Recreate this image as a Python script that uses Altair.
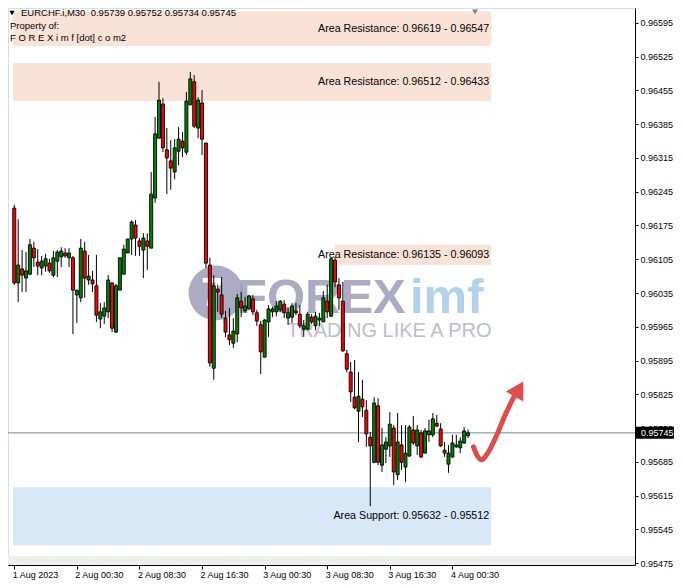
import altair as alt
import pandas as pd

# ---------------- data (EURCHF.i, M30) ----------------
opens = [0.96211, 0.96056, 0.96085, 0.96066, 0.96074, 0.96128, 0.96099, 0.96087, 0.96091, 0.96097,
         0.96072, 0.96101, 0.96110, 0.96118, 0.96108, 0.96108, 0.96031, 0.96025, 0.96122, 0.96062,
         0.96062, 0.96050, 0.95981, 0.95987, 0.95996, 0.96056, 0.95954, 0.96041, 0.96074, 0.96118,
         0.96147, 0.96176, 0.96143, 0.96124, 0.96143, 0.96128, 0.96232, 0.96356, 0.96427, 0.96332,
         0.96309, 0.96286, 0.96329, 0.96350, 0.96327, 0.96425, 0.96473, 0.96377, 0.96429, 0.96346,
         0.96093, 0.95879, 0.96043, 0.96031, 0.95983, 0.95948, 0.95931, 0.95950, 0.96018, 0.95998,
         0.96002, 0.96023, 0.95994, 0.95969, 0.95902, 0.95975, 0.95996, 0.95996, 0.96000, 0.96012,
         0.95983, 0.95985, 0.95998, 0.95991, 0.95960, 0.95960, 0.95985, 0.95967, 0.95979, 0.95975,
         0.96018, 0.95987, 0.96103, 0.96052, 0.96018, 0.95909, 0.95871, 0.95819, 0.95790, 0.95815,
         0.95792, 0.95736, 0.95684, 0.95801, 0.95678, 0.95711, 0.95718, 0.95755, 0.95658, 0.95720,
         0.95674, 0.95697, 0.95751, 0.95718, 0.95745, 0.95703, 0.95741, 0.95741, 0.95765, 0.95753,
         0.95709, 0.95680, 0.95695, 0.95716, 0.95714, 0.95724, 0.95739]
highs = [0.96218, 0.96188, 0.96124, 0.96120, 0.96147, 0.96141, 0.96126, 0.96112, 0.96116, 0.96106,
         0.96122, 0.96124, 0.96130, 0.96128, 0.96128, 0.96112, 0.96041, 0.96147, 0.96141, 0.96114,
         0.96081, 0.96114, 0.96014, 0.96016, 0.96072, 0.96056, 0.96054, 0.96108, 0.96135, 0.96147,
         0.96186, 0.96186, 0.96149, 0.96159, 0.96159, 0.96286, 0.96400, 0.96473, 0.96439, 0.96377,
         0.96352, 0.96354, 0.96379, 0.96369, 0.96452, 0.96493, 0.96487, 0.96441, 0.96456, 0.96346,
         0.96108, 0.96072, 0.96052, 0.96068, 0.95998, 0.96004, 0.95983, 0.96033, 0.96037, 0.96027,
         0.96031, 0.96031, 0.96000, 0.95977, 0.95981, 0.96010, 0.96006, 0.96018, 0.96020, 0.96020,
         0.96004, 0.96014, 0.96014, 0.96010, 0.95979, 0.95996, 0.95991, 0.95996, 0.95994, 0.96039,
         0.96052, 0.96108, 0.96110, 0.96066, 0.96058, 0.95917, 0.95892, 0.95896, 0.95871, 0.95855,
         0.95813, 0.95747, 0.95819, 0.95817, 0.95755, 0.95736, 0.95788, 0.95761, 0.95786, 0.95761,
         0.95761, 0.95761, 0.95780, 0.95761, 0.95751, 0.95755, 0.95772, 0.95786, 0.95782, 0.95765,
         0.95726, 0.95720, 0.95741, 0.95741, 0.95736, 0.95757, 0.95752]
lows = [0.96052, 0.96016, 0.96037, 0.96037, 0.96072, 0.96089, 0.96072, 0.96072, 0.96079, 0.96077,
        0.96068, 0.96068, 0.96089, 0.96108, 0.96089, 0.95950, 0.95973, 0.96016, 0.96025, 0.96052,
        0.96037, 0.95975, 0.95962, 0.95971, 0.95983, 0.95954, 0.95952, 0.96041, 0.96074, 0.96118,
        0.96114, 0.96112, 0.96112, 0.96066, 0.96083, 0.96128, 0.96222, 0.96356, 0.96327, 0.96240,
        0.96249, 0.96271, 0.96300, 0.96317, 0.96321, 0.96425, 0.96377, 0.96356, 0.96321, 0.96087,
        0.95882, 0.95855, 0.95996, 0.95983, 0.95944, 0.95927, 0.95921, 0.95933, 0.95985, 0.95994,
        0.96000, 0.95989, 0.95967, 0.95867, 0.95902, 0.95944, 0.95985, 0.95987, 0.95996, 0.95983,
        0.95969, 0.95973, 0.95989, 0.95962, 0.95944, 0.95958, 0.95971, 0.95958, 0.95967, 0.95975,
        0.95983, 0.95985, 0.96047, 0.96000, 0.95913, 0.95871, 0.95809, 0.95794, 0.95726, 0.95778,
        0.95716, 0.95593, 0.95682, 0.95678, 0.95664, 0.95682, 0.95695, 0.95637, 0.95647, 0.95668,
        0.95643, 0.95695, 0.95720, 0.95699, 0.95693, 0.95703, 0.95726, 0.95736, 0.95757, 0.95716,
        0.95695, 0.95662, 0.95693, 0.95714, 0.95703, 0.95722, 0.95734]
closes = [0.96056, 0.96093, 0.96072, 0.96081, 0.96135, 0.96108, 0.96091, 0.96101, 0.96106, 0.96081,
          0.96108, 0.96120, 0.96122, 0.96112, 0.96118, 0.96041, 0.96041, 0.96128, 0.96066, 0.96070,
          0.96054, 0.95989, 0.95996, 0.96004, 0.96062, 0.95962, 0.96050, 0.96108, 0.96126, 0.96147,
          0.96182, 0.96149, 0.96132, 0.96149, 0.96132, 0.96240, 0.96365, 0.96435, 0.96336, 0.96315,
          0.96294, 0.96336, 0.96354, 0.96336, 0.96433, 0.96479, 0.96381, 0.96435, 0.96354, 0.96097,
          0.95890, 0.96050, 0.96037, 0.95991, 0.95954, 0.95938, 0.95956, 0.96025, 0.96004, 0.96008,
          0.96029, 0.95996, 0.95977, 0.95913, 0.95979, 0.96002, 0.96002, 0.96008, 0.96018, 0.95994,
          0.95994, 0.96008, 0.95994, 0.95967, 0.95967, 0.95991, 0.95975, 0.95987, 0.95983, 0.96025,
          0.95996, 0.96106, 0.96058, 0.96025, 0.95915, 0.95877, 0.95830, 0.95797, 0.95821, 0.95799,
          0.95743, 0.95718, 0.95807, 0.95684, 0.95720, 0.95726, 0.95763, 0.95664, 0.95726, 0.95684,
          0.95703, 0.95757, 0.95724, 0.95751, 0.95695, 0.95749, 0.95749, 0.95774, 0.95759, 0.95718,
          0.95703, 0.95703, 0.95724, 0.95720, 0.95728, 0.95749, 0.95745]

tick_idx = [0, 16, 32, 48, 64, 80, 96, 112]
tick_labels = ["1 Aug 2023", "2 Aug 00:30", "2 Aug 08:30", "2 Aug 16:30",
               "3 Aug 00:30", "3 Aug 08:30", "3 Aug 16:30", "4 Aug 00:30"]
price_ticks = [0.96595, 0.96525, 0.96455, 0.96385, 0.96315, 0.96245, 0.96175, 0.96105, 0.96035,
               0.95965, 0.95895, 0.95825, 0.95755, 0.95685, 0.95615, 0.95545, 0.95475]

zone_labels = ["Area Resistance: 0.96619 - 0.96547", "Area Resistance: 0.96512 - 0.96433",
               "Area Resistance: 0.96135 - 0.96093", "Area Support: 0.95632 - 0.95512"]
zone_top = [0.96619, 0.96512, 0.96135, 0.95632]
zone_bottom = [0.96547, 0.96433, 0.96093, 0.95512]
zone_start = [-0.3, -0.3, 81.9, -0.3]
zone_end = [121.9, 121.9, 121.9, 121.9]
zone_kind = ["res", "res", "res", "sup"]

current_price = 0.95745
header = "EURCHF.i,M30\u00a0\u00a00.95739 0.95752 0.95734 0.95745"

arrow_idx = [117.4, 118.4, 119.5, 120.7, 123.2, 125.7, 127.7]
arrow_price = [0.95716, 0.95697, 0.95689, 0.95699, 0.95738, 0.95786, 0.95819]
arrow_head = (129.0, 0.95836)

# ---------------- chart ----------------
FONT = "Liberation Sans"
W, H = 627, 557
xs = alt.Scale(domain=[-0.325, 157.4], nice=False, zero=False)
ys = alt.Scale(domain=[0.95471, 0.96626], nice=False, zero=False)

label_expr = ""
for v, t in zip(tick_idx, tick_labels):
    label_expr += f"datum.value == {v} ? '{t}' : "
label_expr += "''"

XAX = alt.Axis(values=tick_idx, labelExpr=label_expr, grid=False, title=None, orient="bottom",
               domainColor="black", tickColor="black", tickSize=4, labelAlign="left",
               labelPadding=1, labelFontSize=9, labelFont=FONT, labelColor="black",
               labelOverlap=False, labelFlush=False, labelOffset=-2)
YAX = alt.Axis(values=price_ticks, format=".5f", grid=False, title=None, orient="right",
               domainColor="black", tickColor="black", tickSize=3, labelPadding=2,
               labelFontSize=9, labelFont=FONT, labelColor="black", labelOverlap=False,
               labelFlush=False)

df = pd.DataFrame({"i": list(range(len(opens))), "open": opens, "high": highs,
                   "low": lows, "close": closes})

zones = pd.DataFrame({"label": zone_labels, "top": zone_top, "bottom": zone_bottom,
                      "start": zone_start, "end": zone_end, "kind": zone_kind})
zones["mid"] = (zones["top"] + zones["bottom"]) / 2
zones["tx"] = [121.4] * len(zones)

X = lambda f: alt.X(f, type="quantitative", scale=xs, axis=XAX)
Y = lambda f: alt.Y(f, type="quantitative", scale=ys, axis=YAX)
one = pd.DataFrame({"a": [0]})

zone_rects = alt.Chart(zones).mark_rect(clip=True).encode(
    x=X("start"), x2="end", y=Y("top"), y2="bottom",
    color=alt.condition("datum.kind == 'res'", alt.value("#FBE2D7"), alt.value("#D7E8F7")))

gray_band = alt.Chart(one).mark_rect(color="#EEEEEE").encode(
    x=alt.value(0), x2=alt.value(W), y=alt.value(H - 9), y2=alt.value(H))

# watermark
wm_circle = alt.Chart(one).mark_point(
    shape="circle", filled=True, size=3000, color="#9C9EB9", opacity=0.85).encode(
    x=alt.value(208), y=alt.value(285))
wm_inner = alt.Chart(one).mark_text(
    text="7", font=FONT, fontSize=40, fontWeight="bold", color="white", align="center",
    baseline="middle").encode(x=alt.value(204), y=alt.value(286))
wm_forex = alt.Chart(one).mark_text(
    text="FOREX", font=FONT, fontSize=49, fontWeight="bold", color="#9C9EB9", opacity=0.85,
    align="left", baseline="alphabetic").encode(x=alt.value(229), y=alt.value(305))
wm_imf = alt.Chart(one).mark_text(
    text="imf", font=FONT, fontSize=49, fontWeight="bold", color="#A9CDEA", opacity=0.9,
    align="left", baseline="alphabetic").encode(x=alt.value(402), y=alt.value(305))
wm_tag = alt.Chart(one).mark_text(
    text="TRADING LIKE A PRO", font=FONT, fontSize=20, color="#BDBDCB",
    align="left", baseline="alphabetic").encode(x=alt.value(279), y=alt.value(329))

price_line = alt.Chart(pd.DataFrame({"p": [current_price]})).mark_rule(
    color="#778899", strokeWidth=1).encode(y=Y("p"))

wicks = alt.Chart(df).mark_rule(color="black", strokeWidth=1, clip=True).encode(
    x=X("i"), y=Y("low"), y2="high")
bodies = alt.Chart(df).mark_bar(width=3, stroke="black", strokeWidth=0.9, clip=True).encode(
    x=X("i"), y=Y("open"), y2="close",
    color=alt.condition("datum.close >= datum.open", alt.value("#008000"), alt.value("#FF0000")))

zone_text = alt.Chart(zones).mark_text(align="right", baseline="middle", font=FONT,
                                       fontSize=10.7, color="black", clip=True).encode(
    x=X("tx"), y=Y("mid"), text="label:N")

hdr_tri = alt.Chart(one).mark_point(
    shape="triangle-down", filled=True, size=28, color="black", opacity=1, clip=True).encode(
    x=alt.value(4), y=alt.value(5))
hdr_df = pd.DataFrame({"t": [header, "Property of:", "F O R E X i m f [dot] c o m2"],
                       "xx": [13, 2, 2], "yy": [5, 18, 30]})
hdr_txt = alt.Chart(hdr_df).mark_text(
    align="left", baseline="middle", font=FONT, fontSize=9.5, color="black", clip=True).encode(
    x=alt.X("xx:Q", scale=None), y=alt.Y("yy:Q", scale=None), text="t:N")

shift_mark = alt.Chart(one).mark_point(
    shape="triangle-down", filled=True, size=36, color="#7A8590", opacity=1, clip=True).encode(
    x=alt.value(467), y=alt.value(4))

arrow_df = pd.DataFrame({"i": arrow_idx, "p": arrow_price, "o": list(range(len(arrow_idx)))})
arrow_line = alt.Chart(arrow_df).mark_line(
    color="#E04B4B", strokeWidth=5, strokeCap="round", strokeJoin="round",
    interpolate="monotone").encode(x=X("i"), y=Y("p"), order="o:Q")
arrow_tip = alt.Chart(pd.DataFrame({"i": [arrow_head[0]], "p": [arrow_head[1]]})).mark_point(
    shape="triangle-up", filled=True, size=400, angle=30, color="#E04B4B", opacity=1).encode(
    x=X("i"), y=Y("p"))

tag_box = alt.Chart(pd.DataFrame({"p": [current_price]})).mark_tick(
    orient="horizontal", size=38, thickness=12, color="black", opacity=1).encode(
    x=alt.value(W + 20), y=Y("p"))
tag_text = alt.Chart(pd.DataFrame({"p": [current_price]})).mark_text(
    align="left", baseline="middle", font=FONT, fontSize=9, color="white").encode(
    x=alt.value(W + 6), y=Y("p"), text=alt.Text("p:Q", format=".5f"))

chart = alt.layer(
    zone_rects, gray_band, wm_circle, wm_inner, wm_forex, wm_imf, wm_tag, price_line,
    wicks, bodies, zone_text, hdr_tri, hdr_txt, shift_mark, arrow_line, arrow_tip,
    tag_box, tag_text
).properties(
    width=W, height=H,
    autosize=alt.AutoSizeParams(type="none"),
    padding={"left": 0, "top": 0, "right": 40, "bottom": 15},
).configure_view(stroke="black", strokeWidth=1).configure(background="white")

chart.save("out.html", embed_options={"renderer": "svg", "actions": False})
